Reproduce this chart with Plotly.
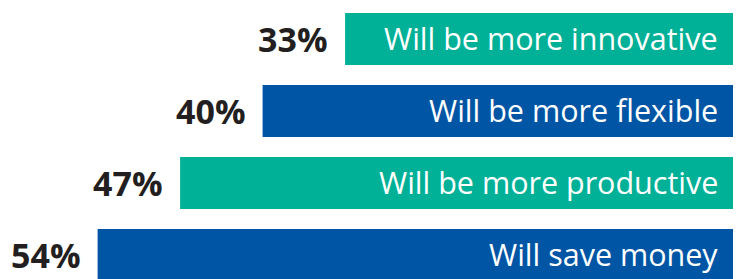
import plotly.graph_objects as go

labels = ["Will be more innovative", "Will be more flexible", "Will be more productive", "Will save money"]
values = [33, 40, 47, 54]
pct_labels = ["33%", "40%", "47%", "54%"]
colors = ["#00B097", "#0055A5", "#00B097", "#0055A5"]

ypos = list(range(len(values)))

fig = go.Figure()
fig.add_trace(go.Bar(
    x=values, y=ypos, orientation="h",
    marker=dict(color=colors, line=dict(width=0)),
    width=0.722, hoverinfo="skip",
))

for i, (v, lab, p) in enumerate(zip(values, labels, pct_labels)):
    fig.add_annotation(x=0, y=i, text=lab, showarrow=False, xanchor="right", xshift=-14,
                       yanchor="middle", yshift=1,
                       font=dict(family="Open Sans", size=30.5, color="white"))
    fig.add_annotation(x=v, y=i, text=p, showarrow=False, xanchor="right", xshift=-16,
                       yanchor="middle", borderpad=0,
                       font=dict(family="Open Sans", size=34, color="#231F20", weight="bold"))

# page body has an 8px default margin; figure is sized to fill the rest of the window
fig.update_layout(
    width=733, height=271,
    margin=dict(l=0, r=7, t=0, b=0),
    paper_bgcolor="white", plot_bgcolor="white",
    showlegend=False,
    xaxis=dict(range=[726 / 11.785, 0], visible=False, fixedrange=True),
    yaxis=dict(range=[240 / 72, -31 / 72], visible=False, fixedrange=True),
)
fig.write_html("out.html")
